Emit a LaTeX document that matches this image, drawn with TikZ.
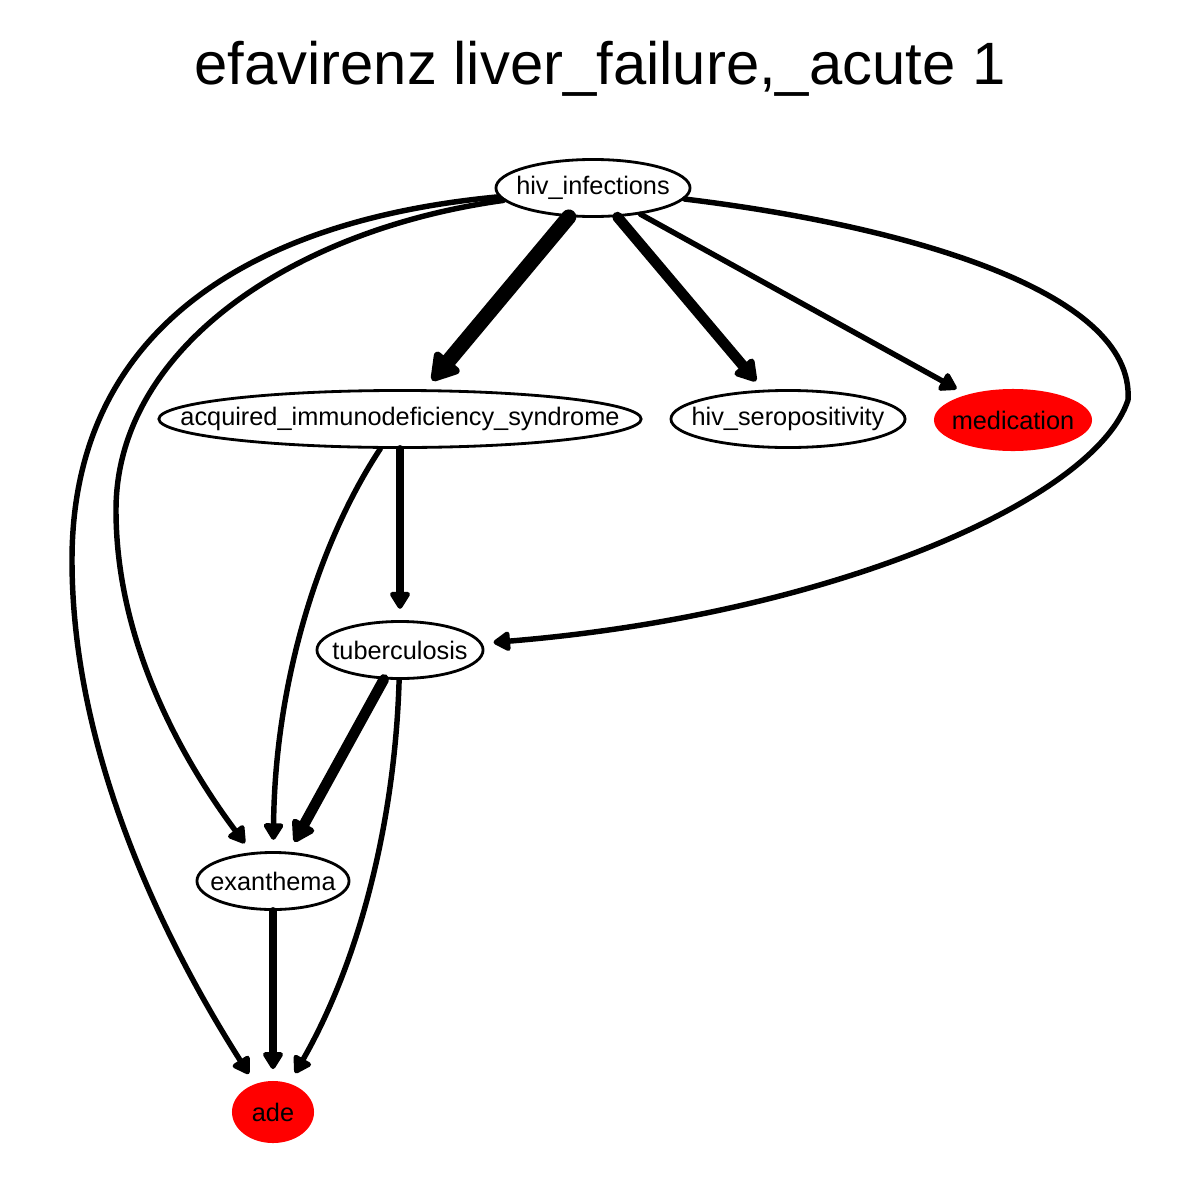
\documentclass[tikz,border=0pt]{standalone}
\usepackage{fontspec}
\setmainfont{Liberation Sans}
\usetikzlibrary{shapes.geometric,arrows.meta}

\begin{document}
\begin{tikzpicture}[x=0.01cm, y=-0.01cm,
    gnode/.style={ellipse, draw, line width=0.8pt, inner sep=0pt, minimum height=0.57cm},
    hit/.style={ellipse, fill=red, inner sep=0pt, minimum height=0.62cm},
    every label/.style={font=\fontsize{7.2}{8.6}\selectfont, inner sep=0pt},
    arc/.style={line cap=round, shorten >=3.2pt},
    w1/.style={arc, line width=1.55pt, -{Triangle[round, scale=0.75]}},
    w2/.style={arc, line width=2.2pt, -{Triangle[round, scale=0.6]}},
    w3/.style={arc, line width=3pt, -{Triangle[round, scale=0.58]}},
    w4/.style={arc, line width=4.3pt, -{Triangle[round, scale=0.55]}}]
  \useasboundingbox (0,0) rectangle (1200,1200);
  \node[font=\fontsize{17}{20}\selectfont, anchor=base] (title) at (600,84) {efavirenz liver\_failure,\_acute 1};

  \node[gnode, minimum width=1.94cm, label={center:hiv\_infections}] (hiv) at (593,188) {};
  \node[gnode, minimum width=4.82cm, label={center:acquired\_immunodeficiency\_syndrome}] (aids) at (400,419) {};
  \node[gnode, minimum width=2.34cm, label={center:hiv\_seropositivity}] (sero) at (788,419) {};
  \node[hit, minimum width=1.58cm, label={center:medication}] (med) at (1013,420) {};
  \node[gnode, minimum width=1.66cm, label={center:tuberculosis}] (tb) at (400,650) {};
  \node[gnode, minimum width=1.52cm, label={center:exanthema}] (exan) at (273,881) {};
  \node[hit, minimum width=0.82cm, label={center:ade}] (ade) at (273,1112) {};

  \draw[w4] (hiv) -- (aids);
  \draw[w3] (hiv) -- (sero);
  \draw[w1] (hiv) -- (med);
  \draw[w1] (hiv) .. controls (900,225) and (1135,290) .. (1128,400)
                  .. controls (1095,500) and (830,615) .. (tb);
  \draw[w1] (hiv) .. controls (290,230) and (116,350) .. (116,510)
                  .. controls (116,650) and (190,770) .. (exan);
  \draw[w1] (hiv) .. controls (250,220) and (72,330) .. (72,560)
                  .. controls (72,760) and (170,950) .. (ade);
  \draw[w2] (aids) -- (tb);
  \draw[w1] (aids) .. controls (320,540) and (275,680) .. (exan);
  \draw[w3] (tb) -- (exan);
  \draw[w1] (tb) .. controls (395,820) and (360,960) .. (ade);
  \draw[w2] (exan) -- (ade);
\end{tikzpicture}
\end{document}
